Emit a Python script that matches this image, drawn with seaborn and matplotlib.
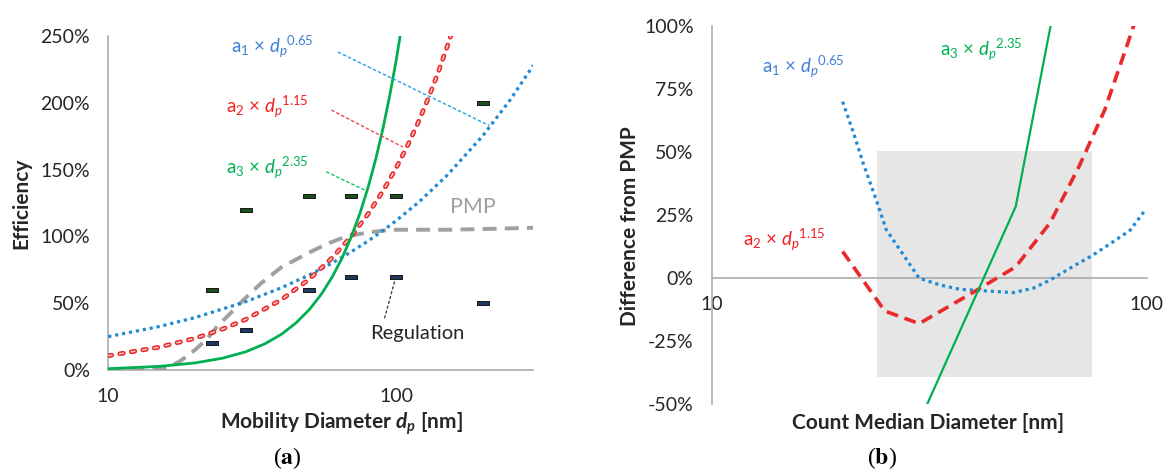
import numpy as np
import pandas as pd
import matplotlib
matplotlib.use("Agg")
import matplotlib.pyplot as plt
import seaborn as sns
from matplotlib.ticker import FixedLocator, FuncFormatter, NullLocator
from matplotlib.path import Path
from matplotlib.markers import MarkerStyle

# ---------------- data: panel (a) ----------------
d_a1 = [10, 15, 20, 30, 40, 50, 60, 70, 80, 90, 100, 120, 150, 200, 250, 300]
eff_a1 = [25.0, 32.5, 39.2, 51.1, 61.6, 71.2, 80.1, 88.6, 96.6, 104.3, 111.7, 125.7, 145.4, 175.2, 202.6, 228.1]
d_a2 = [10, 15, 20, 25, 30, 40, 50, 60, 70, 80, 90, 100, 110, 120, 130, 140, 150, 160]
eff_a2 = [10.7, 17.1, 23.7, 30.7, 37.8, 52.7, 68.1, 84.0, 100.3, 116.9, 133.9, 151.1, 168.6, 186.4, 204.4, 222.6, 241.0, 259.5]
d_a3 = [10, 15, 20, 25, 30, 35, 40, 45, 50, 55, 60, 65, 70, 75, 80, 85, 90, 95, 100, 105]
eff_a3 = [1.0, 2.7, 5.3, 8.9, 13.6, 19.6, 26.8, 35.4, 45.3, 56.7, 69.6, 84.0, 100, 117.6, 136.9, 157.8, 180.5, 205.0, 231.2, 259.3]
d_pmp = [10, 13, 16, 18, 20, 22, 24, 27, 30, 34, 40, 50, 57, 67, 80, 92, 100, 150, 200, 300]
eff_pmp = [0, 0, 1, 7.5, 15, 23, 33, 44, 54, 65, 77, 88, 94, 100, 103, 104.5, 105, 105, 105.5, 106.5]
reg_d = [23, 30, 50, 70, 100, 200]
reg_upper = [60, 120, 130, 130, 130, 200]
reg_lower = [20, 30, 60, 70, 70, 50]

# ---------------- data: panel (b) ----------------
cmd_b1 = [20, 21.2, 22.3, 23.9, 25.2, 27.1, 30, 33.5, 37.2, 41.4, 49.3, 54.8, 60, 66.7, 75.3, 83.8, 91.6, 99]
diff_b1 = [70, 57.5, 45.6, 31, 19.2, 11.2, 0, -2.7, -4.4, -4.9, -5.7, -4, -0.7, 4, 9.2, 14.5, 19, 26.8]
cmd_b2 = [20, 25, 30, 40, 50, 60, 70, 80, 90, 95]
diff_b2 = [10.6, -13, -18, -5.5, 4.5, 22, 44.5, 66.5, 92, 104]
cmd_b3 = [30, 50, 70]
diff_b3 = [-57, 28.4, 159]
box_cmd = [24, 75]
box_diff = [-39, 50.5]

xticks_a = [10, 20, 30, 40, 50, 60, 70, 80, 90, 100, 200, 300]
xticks_b = [10, 20, 30, 40, 50, 60, 70, 80, 90, 100]
xlabels_shown = [10, 100]
yticks_a = [0, 50, 100, 150, 200, 250]
yticks_b = [-50, -25, 0, 25, 50, 75, 100]

# ---------------- style ----------------
sns.set_theme(style="white")
plt.rcParams["font.family"] = ["Lato", "DejaVu Sans"]
plt.rcParams["mathtext.fontset"] = "custom"
plt.rcParams["mathtext.rm"] = "Lato"
plt.rcParams["mathtext.it"] = "Lato:italic"
plt.rcParams["mathtext.bf"] = "Lato:bold"
plt.rcParams["mathtext.bfit"] = "Lato:italic:bold"

SPINE = "#a6a6a6"
TXT = "#262626"
BLUE = "#1f8ad6"
BLUE_T = "#3f7fd4"
BLUE_L = "#22a3e6"
RED = "#ea2a2a"
GREEN = "#00b050"
GRAY = "#a0a0a0"

fig = plt.figure(figsize=(11.64, 4.71), dpi=100)
axa = fig.add_axes([0.0930, 0.2144, 0.3652, 0.7091])
axb = fig.add_axes([0.6114, 0.1416, 0.3737, 0.8032])

def style_axes(ax, xticks, yticks):
    ax.set_xscale("log")
    for s in ["top", "right"]:
        ax.spines[s].set_visible(False)
    for s in ["left", "bottom"]:
        ax.spines[s].set_color(SPINE)
        ax.spines[s].set_linewidth(1.1)
    ax.xaxis.set_major_locator(FixedLocator(xticks))
    ax.xaxis.set_minor_locator(NullLocator())
    ax.xaxis.set_major_formatter(FuncFormatter(lambda v, p: f"{v:.0f}" if round(v) in xlabels_shown else ""))
    ax.yaxis.set_major_locator(FixedLocator(yticks))
    ax.yaxis.set_major_formatter(FuncFormatter(lambda v, p: f"{v:.0f}%"))
    ax.tick_params(axis="both", which="major", direction="out", length=4, width=1.1,
                   color=SPINE, labelsize=14, labelcolor=TXT)
    ax.tick_params(axis="x", pad=9)
    ax.tick_params(axis="y", pad=9)
    ax.grid(False)

# ---------------- panel (a) ----------------
style_axes(axa, xticks_a, yticks_a)
axa.set_xlim(10, 300)
axa.set_ylim(0, 250)

sns.lineplot(x=d_pmp, y=eff_pmp, ax=axa, color=GRAY, lw=2.8, estimator=None,
             linestyle=(0, (3.6, 2.1)), zorder=3)
sns.lineplot(x=d_a1, y=eff_a1, ax=axa, color=BLUE, lw=2.3, estimator=None,
             linestyle=(0, (1.0, 1.2)), zorder=4)
# red hollow dashes: red outer dashes with a pale centre, same period (8.4 pt)
sns.lineplot(x=d_a2, y=eff_a2, ax=axa, color=RED, lw=3.4, estimator=None,
             linestyle=(0, (2.6 / 3.4, 5.8 / 3.4)), dash_capstyle="round", zorder=5)
sns.lineplot(x=d_a2, y=eff_a2, ax=axa, color="#ffc8c8", lw=1.1, estimator=None,
             linestyle=(0.45 / 1.1, (3.5 / 1.1, 4.9 / 1.1)), dash_capstyle="butt", zorder=5.5)
sns.lineplot(x=d_a3, y=eff_a3, ax=axa, color=GREEN, lw=2.0, estimator=None, zorder=6)

rect = MarkerStyle(Path([(-1, -0.28), (1, -0.28), (1, 0.28), (-1, 0.28), (-1, -0.28)]))
sns.scatterplot(x=reg_d, y=reg_upper, ax=axa, marker=rect, s=64, color="#1d4f1d",
                edgecolor="black", linewidth=0.6, zorder=7)
sns.scatterplot(x=reg_d, y=reg_lower, ax=axa, marker=rect, s=64, color="#1f3a60",
                edgecolor="black", linewidth=0.6, zorder=7)

# labels and leader lines
fs_lab = 13.5
lab1 = r"a$_1$ × $d_p{}^{0.65}$"
lab2 = r"a$_2$ × $d_p{}^{1.15}$"
lab3 = r"a$_3$ × $d_p{}^{2.35}$"
axa.text(26.8, 241.8, lab1, color=BLUE_T, fontsize=fs_lab, va="center", ha="left")
axa.text(25.6, 196.9, lab2, color="#f01e1e", fontsize=fs_lab, va="center", ha="left")
axa.text(25.6, 151.0, lab3, color=GREEN, fontsize=fs_lab, va="center", ha="left")
axa.plot([62.8, 211], [238, 183], color=BLUE_L, lw=1.0, linestyle=(0, (2.5, 1.5)), zorder=8)
axa.plot([59.6, 105.5], [194.6, 167], color="#f04848", lw=1.0, linestyle=(0, (2.5, 1.5)), zorder=8)
axa.plot([57.2, 78.7], [148.4, 134.2], color="#10c060", lw=1.0, linestyle=(0, (2.5, 1.5)), zorder=8)
axa.text(185, 122, "PMP", color=GRAY, fontsize=15.5, va="center", ha="center")
axa.text(118.6, 27, "Regulation", color=TXT, fontsize=14.5, va="center", ha="center")
axa.plot([91.2, 99.5], [38.7, 68.6], color="#333333", lw=0.9, linestyle=(0, (2.5, 1.5)), zorder=8)

axa.set_ylabel("Efficiency", fontsize=15, fontweight="bold", color=TXT)
axa.yaxis.set_label_coords(-0.182, 0.5)
axa.set_xlabel(r"Mobility Diameter $\mathbfit{d_p}$ [nm]", fontsize=15, fontweight="bold", color=TXT)
axa.xaxis.set_label_coords(0.549, -0.12)

# ---------------- panel (b) ----------------
style_axes(axb, xticks_b, yticks_b)
axb.set_xlim(10, 100)
axb.set_ylim(-50, 100)
axb.spines["bottom"].set_position(("data", 0))

axb.fill_between(box_cmd, box_diff[0], box_diff[1], color="#e6e6e6", lw=0, zorder=0)
sns.lineplot(x=cmd_b1, y=diff_b1, ax=axb, color=BLUE, lw=2.3, estimator=None,
             linestyle=(0, (1.0, 1.2)), zorder=4)
sns.lineplot(x=cmd_b2, y=diff_b2, ax=axb, color=RED, lw=2.6, estimator=None,
             linestyle=(0, (3.3, 1.9)), zorder=5)
sns.lineplot(x=cmd_b3, y=diff_b3, ax=axb, color=GREEN, lw=1.6, estimator=None, zorder=6)

axb.text(33.5, 90.6, lab3, color=GREEN, fontsize=fs_lab, va="center", ha="left")
axb.text(13.05, 83.8, lab1, color=BLUE_T, fontsize=fs_lab, va="center", ha="left")
axb.text(11.8, 15.2, lab2, color="#f01e1e", fontsize=fs_lab, va="center", ha="left")

axb.set_ylabel("Difference from PMP", fontsize=15, fontweight="bold", color=TXT)
axb.yaxis.set_label_coords(-0.165, 0.47)
axb.set_xlabel("Count Median Diameter [nm]", fontsize=15, fontweight="bold", color=TXT)
axb.xaxis.set_label_coords(0.497, -0.023)

for ax in (axa, axb):
    leg = ax.get_legend()
    if leg is not None:
        leg.remove()

fig.text(0.2466, 0.028, r"($\mathbf{a}$)", fontsize=17, family="Liberation Serif",
         math_fontfamily="stix", ha="center", va="center", color="black")
fig.text(0.758, 0.028, r"($\mathbf{b}$)", fontsize=17, family="Liberation Serif",
         math_fontfamily="stix", ha="center", va="center", color="black")

fig.savefig("out.png", dpi=100, facecolor="white")
